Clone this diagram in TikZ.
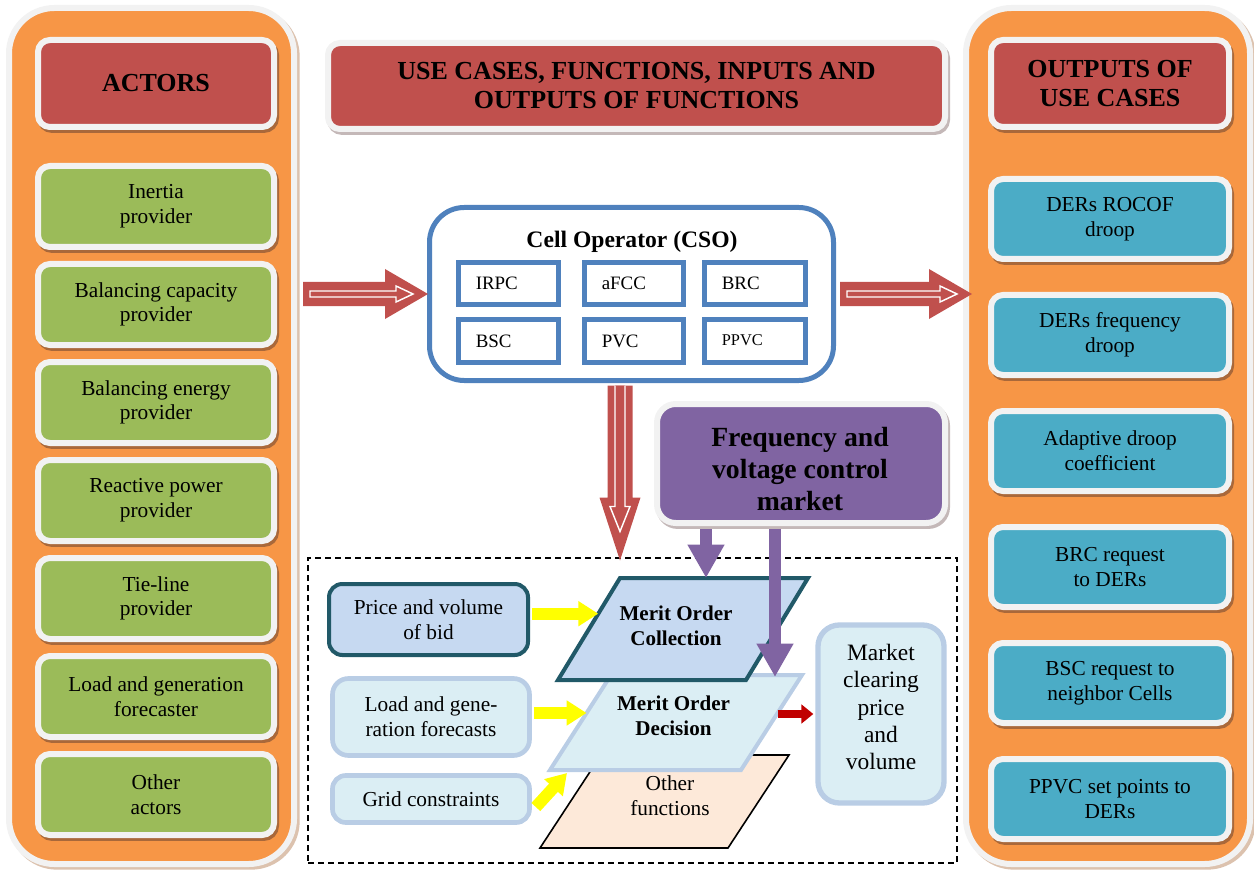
\documentclass[tikz,border=0pt]{standalone}
\usepackage{fontspec}
\setmainfont{Liberation Serif}
\usetikzlibrary{calc,arrows.meta}

\definecolor{panelorange}{HTML}{F79646}
\definecolor{edgegray}{HTML}{F2F2F2}
\definecolor{titlered}{HTML}{C0504D}
\definecolor{actgreen}{HTML}{9BBB59}
\definecolor{outblue}{HTML}{4BACC6}
\definecolor{csoblue}{HTML}{4F81BD}
\definecolor{mktpurple}{HTML}{8064A2}
\definecolor{bidblue}{HTML}{C6D9F1}
\definecolor{darkteal}{HTML}{215968}
\definecolor{paleblue}{HTML}{DBEEF4}
\definecolor{paleedge}{HTML}{B9CDE5}
\definecolor{peach}{HTML}{FDE9D9}
\definecolor{arrowred}{HTML}{C0504D}
\definecolor{brightred}{HTML}{C00000}
\definecolor{brightyellow}{HTML}{FFFF00}
\definecolor{shadeonorange}{HTML}{A9683A}
\definecolor{shadeonwhite}{HTML}{C4B8B8}
\definecolor{panelshade}{HTML}{DCC2AE}

\newcommand{\bodysize}{\fontsize{16}{18.5}\selectfont}
\newcommand{\headsize}{\bfseries\fontsize{19.5}{21.75}\selectfont}
\newcommand{\csosize}{\bfseries\fontsize{17.7}{20}\selectfont}
\newcommand{\fnsize}{\fontsize{14.2}{16}\selectfont}
\newcommand{\smallfnsize}{\fontsize{12.3}{14}\selectfont}
\newcommand{\mktsize}{\bfseries\fontsize{20.8}{24}\selectfont}
\newcommand{\meritsize}{\bfseries\fontsize{15.8}{18.75}\selectfont}
\newcommand{\clearsize}{\fontsize{17.6}{20.6}\selectfont}

% hollow block arrow pointing right: #1 start coordinate, #2 length
\newcommand{\hollowarrowright}[2]{%
  \begin{scope}[shift={(#1)}]
    \fill[arrowred] (0,-12) -- ({#2-43},-12) -- ({#2-43},-25) -- (#2,0)
      -- ({#2-43},25) -- ({#2-43},12) -- (0,12) -- cycle;
    \draw[white, line width=1.1pt, fill=arrowred] (7,-3) -- ({#2-32},-3) -- ({#2-32},-8)
      -- ({#2-15},0) -- ({#2-32},8) -- ({#2-32},3) -- (7,3) -- cycle;
  \end{scope}}

\begin{document}
\begin{tikzpicture}[x=0.75pt, y=-0.75pt,
  every node/.style={inner sep=0pt, align=center},
  % a node spanning the box (x1,y1)-(x2,y2), coordinates in pixels
  span/.style n args={4}{at={({(#1+#3)/2},{(#2+#4)/2})}, anchor=center,
    minimum width={(#3-#1)*0.75pt}, minimum height={(#4-#2)*0.75pt}},
  panel/.style={rounded corners=34pt, fill=panelorange, draw=edgegray, line width=4.5pt,
    preaction={fill=panelshade, draw=panelshade, line width=4.5pt,
      transform canvas={xshift=2pt, yshift=-2pt}}},
  card/.style={rounded corners=9pt, draw=edgegray, line width=4.5pt,
    preaction={fill=#1, draw=#1, line width=4.5pt,
      transform canvas={xshift=1.5pt, yshift=-2.2pt}}},
  card/.default=shadeonorange,
  actor/.style={card, fill=actgreen, font=\bodysize},
  output/.style={card, fill=outblue, font=\bodysize},
  heading/.style={card=#1, fill=titlered, font=\headsize},
  heading/.default=shadeonorange,
  fnbox/.style={draw=csoblue, line width=3.75pt, fill=white},
  fnlabel/.style={anchor=west, font=\fnsize},
  yarrow/.style={draw=brightyellow, line width=9pt, -{Triangle[length=15pt, width=18pt]}},
  parrow/.style={draw=mktpurple, line width=9pt, -{Triangle[length=25pt, width=26pt]}},
  rarrow/.style={draw=brightred, line width=6pt, -{Triangle[length=9pt, width=14pt]}},
  inputbox/.style={fill=paleblue, draw=paleedge, line width=3.5pt, font=\bodysize},
]
\useasboundingbox (0,0) rectangle (1254,870);

% side panels
\node[panel, span={9}{8}{294}{864}] (actpanel) {};
\node[panel, span={966}{8}{1250}{864}] (outpanel) {};

% actors column
\node[heading, span={38}{40}{274}{127}] (actors) {ACTORS};
\node[actor, span={38}{166}{274}{247}] (act1) {Inertia\\provider};
\node[actor, span={38}{264}{274}{345}] (act2) {Balancing capacity\\provider};
\node[actor, span={38}{362}{274}{443}] (act3) {Balancing energy\\provider};
\node[actor, span={38}{460}{274}{541}] (act4) {Reactive power\\provider};
\node[actor, span={38}{558}{274}{639}] (act5) {Tie-line\\provider};
\node[actor, span={38}{656}{274}{737}] (act6) {Load and generation\\forecaster};
\node[actor, span={38}{754}{274}{835}] (act7) {Other\\actors};

% outputs column
\node[heading, span={991}{40}{1229}{127}] (outputs) {OUTPUTS OF\\USE CASES};
\node[output, span={991}{179}{1229}{259}] (out1) {DERs ROCOF\\droop};
\node[output, span={991}{295}{1229}{375}] (out2) {DERs frequency\\droop};
\node[output, span={991}{411}{1229}{491}] (out3) {Adaptive droop\\coefficient};
\node[output, span={991}{527}{1229}{607}] (out4) {BRC request\\to DERs};
\node[output, span={991}{643}{1229}{723}] (out5) {BSC request to\\neighbor Cells};
\node[output, span={991}{759}{1229}{839}] (out6) {PPVC set points to\\DERs};

% central heading
\node[heading=shadeonwhite, span={328}{43}{945}{129}] (usecases)
  {USE CASES, FUNCTIONS, INPUTS AND\\OUTPUTS OF FUNCTIONS};

% cell operator with its functions
\node[draw=csoblue, line width=3.75pt, rounded corners=26pt, fill=white,
  span={429.5}{207.5}{833.5}{380.5}] (cso) {};
\node[font=\csosize] (csotitle) at (632,242) {Cell Operator (CSO)};
\node[fnbox, span={458.5}{262.5}{558.5}{304.5}] (irpc) {};
\node[fnbox, span={584.5}{262.5}{683.5}{304.5}] (afcc) {};
\node[fnbox, span={704.5}{262.5}{805.5}{304.5}] (brc) {};
\node[fnbox, span={458.5}{319.5}{558.5}{362.5}] (bsc) {};
\node[fnbox, span={584.5}{319.5}{683.5}{362.5}] (pvc) {};
\node[fnbox, span={704.5}{319.5}{805.5}{362.5}] (ppvc) {};
\node[fnlabel] (irpct) at ($(irpc.west)+(19.5,0)$) {IRPC};
\node[fnlabel] (afcct) at ($(afcc.west)+(19.5,0)$) {aFCC};
\node[fnlabel] (brct) at ($(brc.west)+(19.5,0)$) {BRC};
\node[fnlabel] (bsct) at ($(bsc.west)+(19.5,0)$) {BSC};
\node[fnlabel] (pvct) at ($(pvc.west)+(19.5,0)$) {PVC};
\node[fnlabel, font=\smallfnsize] (ppvct) at ($(ppvc.west)+(19.5,-1)$) {PPVC};

% block arrows between actors, operator and outputs
\coordinate (la1) at ($(actpanel.east |- cso.west)+(6,0)$);
\hollowarrowright{la1}{125}
\coordinate (ra1) at ($(cso.east)+(4,0)$);
\hollowarrowright{ra1}{132}

% market box
\node[card=shadeonwhite, fill=mktpurple, rounded corners=14pt,
  span={657}{404}{945}{523}] (fvm) {};
\node[font=\mktsize] (fvmtext) at (800,469) {Frequency and\\voltage control\\market};

% functions area
\node[draw=black, line width=1.1pt, dash pattern=on 4.5pt off 3pt,
  span={308}{558}{957}{863}] (funcarea) {};

% block arrow down from the operator
\coordinate (da1) at ($(cso.south)+(-11.5,2.5)$);
\begin{scope}[shift={(da1)}]
  \fill[arrowred] (-12.5,0) -- (-12.5,112) -- (-20.5,112) -- (0,175) -- (20.5,112)
    -- (12.5,112) -- (12.5,0) -- cycle;
  \draw[white, line width=1.1pt, fill=arrowred] (-5,0) -- (-5,121) -- (-10,121) -- (0,146)
    -- (10,121) -- (5,121) -- (5,0);
\end{scope}

% inputs
\node[fill=bidblue, draw=darkteal, line width=3pt, rounded corners=10pt, font=\bodysize,
  span={329}{584}{528}{655}] (pvb) {Price and volume\\of bid};
\node[inputbox, rounded corners=12pt, span={332.5}{678.5}{529.5}{755.5}] (lgf)
  {Load and gene-\\ration forecasts};
\node[inputbox, rounded corners=10pt, span={332.5}{775.5}{529.5}{822.5}] (gc)
  {Grid constraints};
\node[inputbox, rounded corners=16pt, line width=4pt,
  span={818}{625}{944}{803}] (mcp) {};
\node[font=\clearsize] (mcptext) at (881,707) {Market\\clearing\\price\\and\\volume};

% stacked functions
\coordinate (ofTL) at (601,755); \coordinate (ofTR) at (789,755);
\coordinate (ofBR) at (728,848); \coordinate (ofBL) at (540,848);
\coordinate (modTL) at (611,675); \coordinate (modTR) at (802,675);
\coordinate (modBR) at (741,770); \coordinate (modBL) at (550,770);
\coordinate (mocTL) at (620,578); \coordinate (mocTR) at (808,578);
\coordinate (mocBR) at (746,680); \coordinate (mocBL) at (558,680);
\draw[fill=peach, draw=black, line width=1.2pt] (ofTL) -- (ofTR) -- (ofBR) -- (ofBL) -- cycle;
\node[font=\bodysize] (oftext) at (670,796) {Other\\functions};
\draw[fill=paleblue, draw=paleedge, line width=3pt] (modTL) -- (modTR) -- (modBR) -- (modBL) -- cycle;
\node[font=\meritsize] (modtext) at (673.5,716) {Merit Order\\Decision};
\draw[fill=bidblue, draw=darkteal, line width=3pt] (mocTL) -- (mocTR) -- (mocBR) -- (mocBL) -- cycle;
\node[font=\meritsize] (moctext) at (676,626) {Merit Order\\Collection};

% input arrows
\coordinate (y1) at ($(mocTL)!0.35!(mocBL)$);
\coordinate (y2) at ($(modTL)!0.4!(modBL)$);
\coordinate (y3) at ($(modBL)+(17,3)$);
\draw[yarrow] ($(pvb.east |- y1)+(2,0)$) -- (y1);
\draw[yarrow] ($(lgf.east |- y2)+(2,0)$) -- (y2);
\draw[yarrow] ($(gc.east)+(4,8)$) -- (y3);

% decision output
\coordinate (r1) at ($(modTR)!0.4!(modBR)$);
\draw[rarrow] (r1 |- mcp.west) -- ($(mcp.west)+(-2,0)$);

% market arrows
\coordinate (pa1) at (706,578);
\coordinate (pa2) at (775,677);
\draw[parrow] ($(fvm.south -| pa1)+(0,3)$) -- (pa1);
\draw[parrow] ($(fvm.south -| pa2)+(0,3)$) -- (pa2);
\end{tikzpicture}
\end{document}
